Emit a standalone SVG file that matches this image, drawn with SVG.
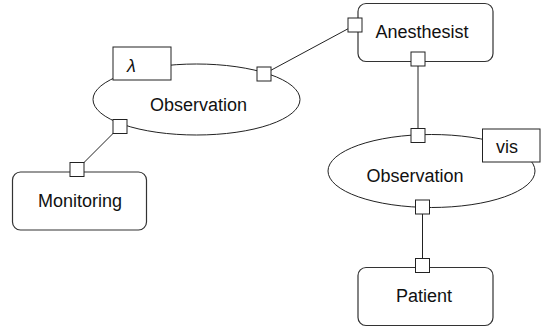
<svg xmlns="http://www.w3.org/2000/svg" width="541" height="329" viewBox="0 0 541 329">
  <style>
    .box { fill: #fff; stroke: #333; stroke-width: 1.2; }
    .ell { fill: #fff; stroke: #222; stroke-width: 1; }
    .tag { fill: #fff; stroke: #222; stroke-width: 1; }
    .port { fill: #fff; stroke: #222; stroke-width: 1; }
    .edge { stroke: #222; stroke-width: 1; fill: none; }
    text { font-family: "Liberation Sans", Arial, sans-serif; font-size: 18px; fill: #111; }
    .mid { text-anchor: middle; }
  </style>
  <rect width="541" height="329" fill="#fff"/>

  <g id="connectors">
    <line class="edge" x1="264" y1="74" x2="355" y2="25"/>
    <line class="edge" x1="120" y1="126.5" x2="77" y2="169.5"/>
    <line class="edge" x1="418" y1="59" x2="418" y2="135.5"/>
    <line class="edge" x1="422.5" y1="207" x2="422.5" y2="265.5"/>
  </g>

  <g id="anesthesist">
    <rect class="box" x="358" y="3.5" width="135" height="58" rx="8"/>
    <text class="mid" x="422" y="38">Anesthesist</text>
    <rect class="port" x="348" y="18" width="14" height="14"/>
    <rect class="port" x="411" y="52" width="14" height="14"/>
  </g>

  <g id="observation-1">
    <ellipse class="ell" cx="196.5" cy="99.5" rx="103.5" ry="35.5"/>
    <text class="mid" x="198.5" y="111">Observation</text>
    <rect class="tag" x="113" y="47" width="58" height="33"/>
    <text x="127" y="72" font-style="italic" font-family="'Liberation Serif', serif">λ</text>
    <rect class="port" x="257" y="67" width="14" height="14"/>
    <rect class="port" x="113" y="119.5" width="14" height="14"/>
  </g>

  <g id="monitoring">
    <rect class="box" x="12.5" y="172" width="134" height="58" rx="8"/>
    <text class="mid" x="80" y="207">Monitoring</text>
    <rect class="port" x="70" y="162.5" width="14" height="14"/>
  </g>

  <g id="observation-2">
    <ellipse class="ell" cx="431.5" cy="171" rx="103.5" ry="36.5"/>
    <text class="mid" x="415" y="182">Observation</text>
    <rect class="tag" x="482.5" y="129" width="57.5" height="33"/>
    <text x="496" y="153">vis</text>
    <rect class="port" x="411" y="128.5" width="14" height="14"/>
    <rect class="port" x="415.5" y="200" width="14" height="14"/>
  </g>

  <g id="patient">
    <rect class="box" x="358" y="267.5" width="135" height="58" rx="8"/>
    <text class="mid" x="424" y="302">Patient</text>
    <rect class="port" x="415.5" y="258.5" width="14" height="14"/>
  </g>
</svg>
